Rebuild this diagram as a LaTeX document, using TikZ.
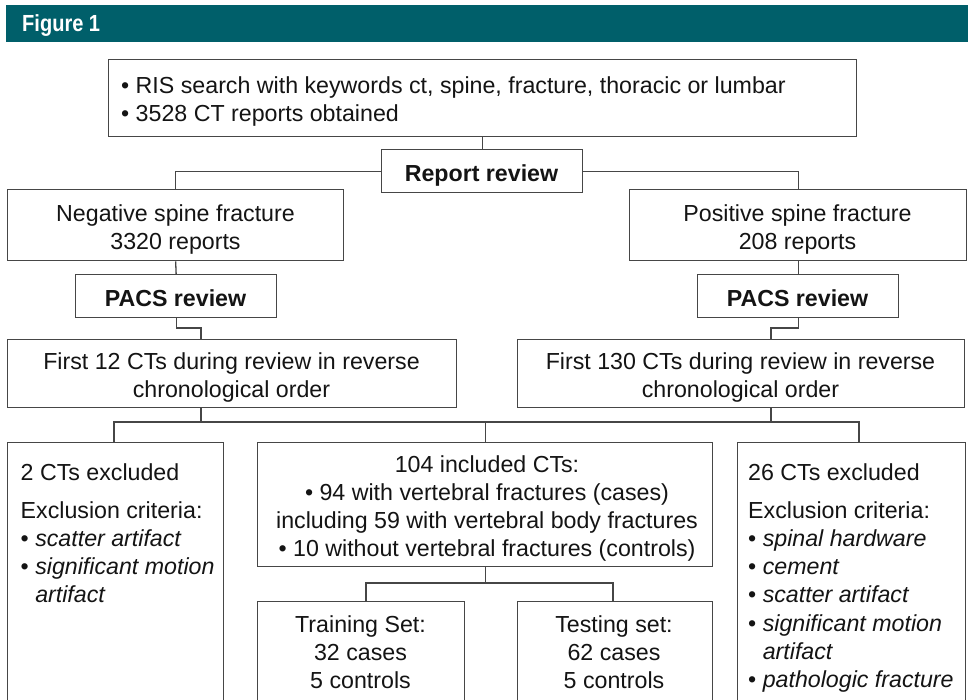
\documentclass[tikz,border=0pt]{standalone}
\usepackage{fontspec}
\setmainfont{Liberation Sans}
\definecolor{hdrteal}{RGB}{0,95,106}
\definecolor{linegray}{RGB}{70,70,70}
\definecolor{txtblack}{RGB}{20,20,20}
\begin{document}
\begin{tikzpicture}[x=1pt,y=-1pt,
  box/.style={draw=linegray, line width=1.3pt, inner sep=0pt, anchor=north west},
  txt/.style={inner sep=0pt, anchor=north, align=center, text=txtblack,
    font=\fontsize{23.2}{28.2}\selectfont},
  ltxt/.style={txt, anchor=north west, align=left},
  conn/.style={draw=linegray, line width=1.3pt}]
\clip (0,0) rectangle (968,699);
\fill[white] (0,0) rectangle (968,699);
% header
\fill[hdrteal] (6,5) rectangle (968,42);
\node[anchor=base west, inner sep=0pt, text=white,
  font=\bfseries\fontsize{23.3}{28}\selectfont] (hdr) at (22,31.7) {\scalebox{0.86}[1]{Figure 1}};
% boxes
\node[box, minimum width=748pt, minimum height=77pt] (top) at (108,59) {};
\node[box, minimum width=201pt, minimum height=43pt] (rr) at (381,149) {};
\node[box, minimum width=336pt, minimum height=71pt] (neg) at (7,189) {};
\node[box, minimum width=337pt, minimum height=71pt] (pos) at (629,189) {};
\node[box, minimum width=201pt, minimum height=43pt] (pacsL) at (75,274) {};
\node[box, minimum width=201pt, minimum height=43pt] (pacsR) at (697,274) {};
\node[box, minimum width=449pt, minimum height=68pt] (f12) at (7,339) {};
\node[box, minimum width=447pt, minimum height=68pt] (f130) at (517,339) {};
\node[box, minimum width=216pt, minimum height=300pt] (exL) at (7,442) {};
\node[box, minimum width=455pt, minimum height=124pt] (inc) at (257,442) {};
\node[box, minimum width=228pt, minimum height=300pt] (exR) at (737,442) {};
\node[box, minimum width=207pt, minimum height=150pt] (train) at (257,601) {};
\node[box, minimum width=195pt, minimum height=150pt] (test) at (517,601) {};
% texts
\node[ltxt] (ttop) at (121,76.5) {• RIS search with keywords ct, spine, fracture, thoracic or lumbar\\• 3528 CT reports obtained};
\node[txt, font=\bfseries\fontsize{23.2}{28.2}\selectfont] (trr) at (481.5,164.3) {Report review};
\node[txt] (tneg) at (175.5,204) {Negative spine fracture\\3320 reports};
\node[txt] (tpos) at (797.5,204) {Positive spine fracture\\208 reports};
\node[txt, font=\bfseries\fontsize{23.2}{28.2}\selectfont] (tpacsL) at (175.5,289) {PACS review};
\node[txt, font=\bfseries\fontsize{23.2}{28.2}\selectfont] (tpacsR) at (797.5,289) {PACS review};
\node[txt] (tf12) at (231.5,352) {First 12 CTs during review in reverse\\chronological order};
\node[txt] (tf130) at (740.5,352) {First 130 CTs during review in reverse\\chronological order};
\node[ltxt] (texL) at (20.5,463) {2 CTs excluded\\[10pt]Exclusion criteria:\\• \textit{scatter artifact}\\• \textit{significant motion}\\\phantom{• }\textit{artifact}};
\node[txt] (tinc) at (487,455) {104 included CTs:\\• 94 with vertebral fractures (cases)\\including 59 with vertebral body fractures\\• 10 without vertebral fractures (controls)};
\node[ltxt] (texR) at (748,463) {26 CTs excluded\\[10pt]Exclusion criteria:\\• \textit{spinal hardware}\\• \textit{cement}\\• \textit{scatter artifact}\\• \textit{significant motion}\\\phantom{• }\textit{artifact}\\• \textit{pathologic fracture}};
\node[txt] (ttrain) at (360.5,615) {Training Set:\\32 cases\\5 controls};
\node[txt] (ttest) at (614,615) {Testing set:\\62 cases\\5 controls};
% junction coordinates
\coordinate (jL) at (201,328);
\coordinate (jR) at (771,328);
\coordinate (bL) at (114,422);
\coordinate (bR) at (859,422);
\coordinate (tL) at (366,583);
\coordinate (tR) at (613,583);
% connectors
\draw[conn] (top.south) -- (top.south |- rr.north);
\draw[conn] (rr.west) -| (neg.north);
\draw[conn] (rr.east) -| (pos.north);
\draw[conn] (neg.south) -- (pacsL.north);
\draw[conn] (pos.south) -- (pacsR.north);
\draw[conn] (pacsL.south) |- (jL) -- (jL |- f12.north);
\draw[conn] (pacsR.south) |- (jR) -- (jR |- f130.north);
\draw[conn] (jL |- f12.south) -- (jL |- bL);
\draw[conn] (jR |- f130.south) -- (jR |- bL);
\draw[conn] (bL |- exL.north) -- (bL) -- (bR) -- (bR |- exR.north);
\draw[conn] (inc.north) -- (inc.north |- bL);
\draw[conn] (inc.south) -- (inc.south |- tL);
\draw[conn] (tL |- train.north) -- (tL) -- (tR) -- (tR |- test.north);
\end{tikzpicture}
\end{document}
